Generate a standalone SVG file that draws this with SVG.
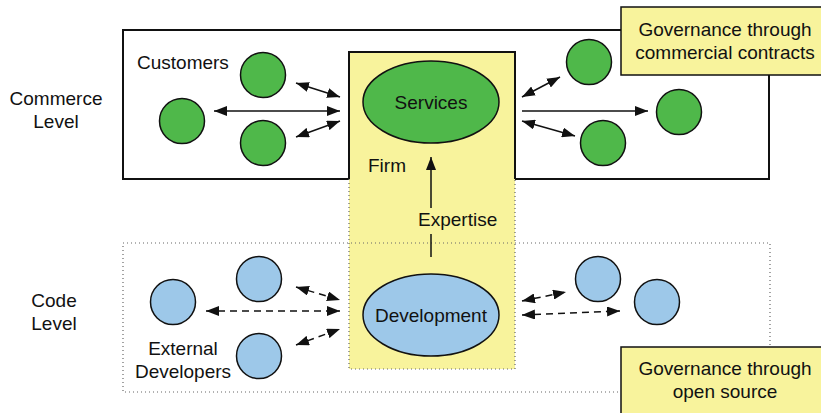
<svg xmlns="http://www.w3.org/2000/svg" width="821" height="413" viewBox="0 0 821 413">
  <style>
    text { font-family: "Liberation Sans", Arial, sans-serif; font-size: 19px; fill: #111; }
    .mid { text-anchor: middle; }
    .commerce { fill: #fff; stroke: #111; stroke-width: 2; }
    .firm { fill: #f8f39c; stroke: none; }
    .dotted { fill: none; stroke: #666; stroke-width: 1.2; stroke-dasharray: 1 3; }
    .solid { fill: none; stroke: #111; stroke-width: 2; }
    .gov { fill: #f8f39c; stroke: #111; stroke-width: 1.5; }
    .green { fill: #4fb84a; stroke: #111; stroke-width: 1.5; }
    .blue { fill: #9dc8e9; stroke: #111; stroke-width: 1.5; }
    .arrow { fill: none; stroke: #111; stroke-width: 1.5; }
    .dash { stroke-dasharray: 7 5; }
  </style>
  <defs>
    <marker id="head" viewBox="0 0 13 10" refX="13" refY="5" markerWidth="13" markerHeight="10" markerUnits="userSpaceOnUse" orient="auto-start-reverse">
      <path d="M0,0 L13,5 L0,10 z" fill="#111"/>
    </marker>
  </defs>

  <!-- commerce level frame -->
  <rect id="commerce-frame" class="commerce" x="123" y="30" width="646" height="149"/>

  <!-- firm column -->
  <g id="firm">
    <rect class="firm" x="349" y="52" width="166" height="317"/>
    <path class="dotted" d="M349,179 V369 H515 V179"/>
    <path class="solid" d="M349,179 V52 H515 V179"/>
    <text x="368" y="172">Firm</text>
  </g>

  <!-- code level frame -->
  <rect id="code-frame" class="dotted" x="123" y="243" width="647" height="149"/>

  <!-- level labels -->
  <g id="label-commerce">
    <text class="mid" x="56" y="105">Commerce</text>
    <text class="mid" x="56" y="128">Level</text>
  </g>
  <g id="label-code">
    <text class="mid" x="54" y="307">Code</text>
    <text class="mid" x="54" y="330">Level</text>
  </g>

  <!-- governance notes -->
  <g id="gov-commercial">
    <rect class="gov" x="621" y="7" width="210" height="68"/>
    <text class="mid" x="725" y="36">Governance through</text>
    <text class="mid" x="725" y="59">commercial contracts</text>
  </g>
  <g id="gov-opensource">
    <rect class="gov" x="621" y="347" width="210" height="80"/>
    <text class="mid" x="725" y="375">Governance through</text>
    <text class="mid" x="725" y="398">open source</text>
  </g>

  <!-- firm activities -->
  <g id="services">
    <ellipse class="green" cx="431" cy="102" rx="68" ry="41"/>
    <text class="mid" x="431" y="109">Services</text>
  </g>
  <g id="development">
    <ellipse class="blue" cx="431" cy="315" rx="68" ry="41"/>
    <text class="mid" x="431" y="322">Development</text>
  </g>

  <!-- customers -->
  <g id="customers">
    <text x="137" y="69">Customers</text>
    <circle class="green" cx="263" cy="75" r="22.5"/>
    <circle class="green" cx="182" cy="121" r="22.5"/>
    <circle class="green" cx="263" cy="143" r="22.5"/>
  </g>
  <g id="partners">
    <circle class="green" cx="589" cy="62" r="22.5"/>
    <circle class="green" cx="679" cy="112" r="22.5"/>
    <circle class="green" cx="603" cy="143" r="22.5"/>
  </g>

  <!-- developers -->
  <g id="external-developers">
    <circle class="blue" cx="259" cy="279" r="22.5"/>
    <circle class="blue" cx="173" cy="302" r="22.5"/>
    <circle class="blue" cx="259" cy="356" r="22.5"/>
    <text class="mid" x="183" y="355">External</text>
    <text class="mid" x="183" y="378">Developers</text>
  </g>
  <g id="other-developers">
    <circle class="blue" cx="598" cy="279" r="22.5"/>
    <circle class="blue" cx="657" cy="302" r="22.5"/>
  </g>

  <!-- connectors -->
  <g id="connectors">
    <line class="arrow" x1="296" y1="83" x2="340" y2="97" marker-start="url(#head)" marker-end="url(#head)"/>
    <line class="arrow" x1="214" y1="111" x2="340" y2="111" marker-start="url(#head)" marker-end="url(#head)"/>
    <line class="arrow" x1="296" y1="137" x2="340" y2="121" marker-start="url(#head)" marker-end="url(#head)"/>

    <line class="arrow" x1="522" y1="97" x2="560" y2="77" marker-start="url(#head)" marker-end="url(#head)"/>
    <line class="arrow" x1="522" y1="111" x2="648" y2="111" marker-end="url(#head)"/>
    <line class="arrow" x1="522" y1="121" x2="575" y2="136" marker-start="url(#head)" marker-end="url(#head)"/>

    <line class="arrow dash" x1="296" y1="287" x2="340" y2="300" marker-start="url(#head)" marker-end="url(#head)"/>
    <line class="arrow dash" x1="206" y1="311" x2="340" y2="311" marker-start="url(#head)" marker-end="url(#head)"/>
    <line class="arrow dash" x1="296" y1="345" x2="340" y2="329" marker-start="url(#head)" marker-end="url(#head)"/>

    <line class="arrow dash" x1="522" y1="301" x2="566" y2="292" marker-start="url(#head)" marker-end="url(#head)"/>
    <line class="arrow dash" x1="522" y1="315" x2="620" y2="311" marker-start="url(#head)" marker-end="url(#head)"/>

    <line class="arrow" x1="431" y1="257" x2="431" y2="234"/>
    <line class="arrow" x1="431" y1="208" x2="431" y2="157" marker-end="url(#head)"/>
    <text x="418" y="226">Expertise</text>
  </g>
</svg>
